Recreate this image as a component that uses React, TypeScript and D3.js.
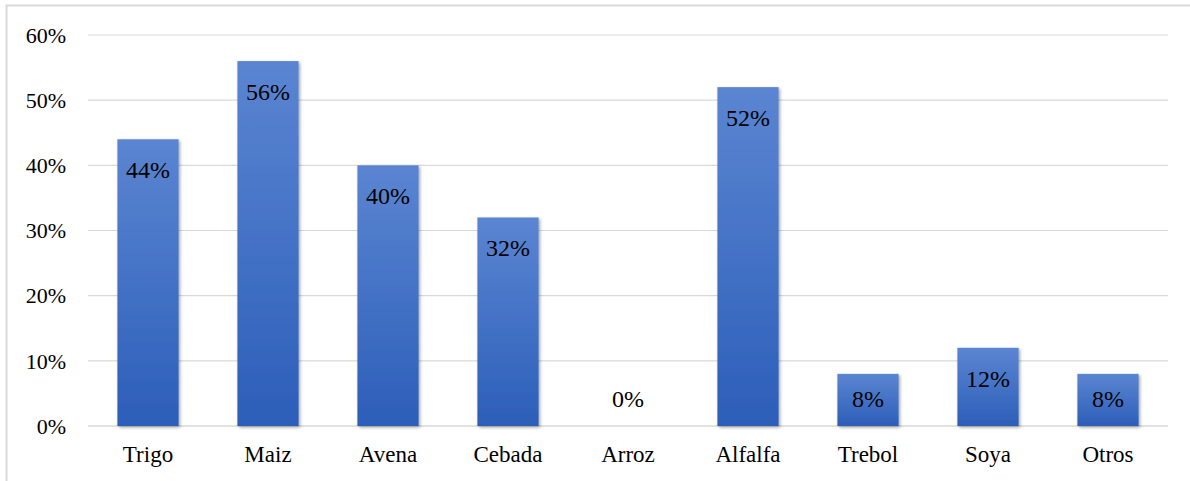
import React from "react";
import * as d3 from "d3";

const categories = ["Trigo", "Maiz", "Avena", "Cebada", "Arroz", "Alfalfa", "Trebol", "Soya", "Otros"];
const values = [0.44, 0.56, 0.4, 0.32, 0, 0.52, 0.08, 0.12, 0.08];
const yTicks = [0, 0.1, 0.2, 0.3, 0.4, 0.5, 0.6];

const W = 1190;
const H = 481;
const left = 88;
const right = 1168;
const top = 35;
const bottom = 426;
const font = "Liberation Serif, Times New Roman, Times, serif";

export default function App() {
  const x = d3.scaleBand<string>().domain(categories).range([left, right]).paddingInner(0.49).paddingOuter(0.245);
  const y = d3.scaleLinear().domain([0, 0.6]).range([bottom, top]);
  const pct = d3.format(".0%");

  return (
    <svg width={W} height={H} style={{ position: "absolute", left: 0, top: 0 }}>
      <defs>
        <linearGradient id="barGrad" x1="0" y1="0" x2="0" y2="1">
          <stop offset="0%" stopColor="#5b85d1" />
          <stop offset="100%" stopColor="#2c5eb9" />
        </linearGradient>
        <filter id="shadow" x="-20%" y="-20%" width="140%" height="140%">
          <feDropShadow dx="1.5" dy="1.5" stdDeviation="1.5" floodColor="#000" floodOpacity="0.35" />
        </filter>
      </defs>
      <rect x={6.5} y={5.5} width={W + 10} height={H + 10} fill="white" stroke="#d9d9d9" strokeWidth={2} />

      {yTicks.map((t) => (
        <g key={t}>
          <line x1={left} x2={right} y1={y(t)} y2={y(t)} stroke="#d9d9d9" strokeWidth={t === 0 ? 1.5 : 1.2} />
          <text x={66} y={y(t)} dy="0.35em" textAnchor="end" fontSize={22} fontFamily={font} fill="#000">
            {pct(t)}
          </text>
        </g>
      ))}

      {categories.map((c, i) => {
        const v = values[i];
        const bx = x(c)!;
        const by = y(v);
        const h = bottom - by;
        const labelY = Math.min(by + 39, bottom - 19);
        return (
          <g key={c}>
            {h > 0 && (
              <rect x={bx} y={by} width={x.bandwidth()} height={h} fill="url(#barGrad)" filter="url(#shadow)" />
            )}
            <text x={bx + x.bandwidth() / 2} y={labelY} textAnchor="middle" fontSize={24} fontFamily={font} fill="#000">
              {pct(v)}
            </text>
            <text x={bx + x.bandwidth() / 2} y={462} textAnchor="middle" fontSize={23} fontFamily={font} fill="#000">
              {c}
            </text>
          </g>
        );
      })}
    </svg>
  );
}
